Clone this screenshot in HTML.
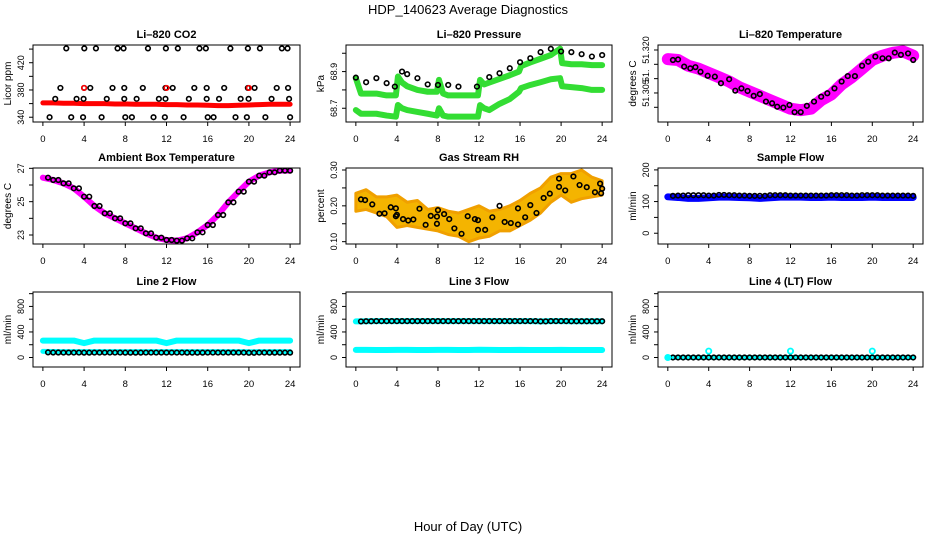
<!DOCTYPE html>
<html><head><meta charset="utf-8"><style>
html,body{margin:0;padding:0;background:#fff;}
svg{display:block;font-family:"Liberation Sans",sans-serif;}
</style></head><body>
<svg id="c" width="936" height="540" viewBox="0 0 936 540" xmlns="http://www.w3.org/2000/svg">
<rect width="936" height="540" fill="#fff"/>
<text x="468" y="14" text-anchor="middle" font-size="13">HDP_140623  Average Diagnostics</text>
<text x="468" y="531" text-anchor="middle" font-size="13">Hour of Day (UTC)</text>
</svg>
<script>
// ---- data arrays ----
const xTicks = [0,4,8,12,16,20,24];
// CO2
const co2BlackHours = [2.27,4.02,5.15,7.25,7.83,10.2,11.94,13.1,15.2,15.82,18.2,19.9,21.07,23.2,23.75,
 1.7,4.0,4.6,6.76,7.9,9.7,11.9,12.6,14.7,15.9,17.6,19.9,20.55,22.7,23.8,
 1.2,3.27,3.95,6.2,7.9,9.1,11.26,11.9,14.17,15.9,17.1,19.2,19.97,22.2,23.9,
 0.65,2.75,3.9,5.7,8.0,8.64,10.74,11.84,13.66,16.0,16.57,18.7,19.8,21.6,24.0];
const co2BlackVals = [441,441,441,441,441,441,441,441,441,441,441,441,441,441,441,
 383,383,383,383,383,383,383,383,383,383,383,383,383,383,383,
 367,367,367,367,367,367,367,367,367,367,367,367,367,367,367,
 340,340,340,340,340,340,340,340,340,340,340,340,340,340,340];
const co2RedVals = [361,361,360.5,360.5,360,360,360,359.5,359.5,359,359,359,358.5,358.5,358,358,357.5,357,357,357.5,358,358.5,359,359,359];
const co2RedDotHours = [4,12,20];
const co2RedDotVals = [383,383,383];
// Pressure
const presBlackVals = [68.867,68.842,68.864,68.837,68.818,68.9,68.886,68.864,68.83,68.827,68.827,68.818,68.818,68.87,68.891,68.918,68.951,68.973,69.006,69.024,69.01,69.006,68.995,68.982,68.99];
const presBlackHours = [0,1,2,3,3.8,4.5,5,6,7,8,9,10,11.8,13,14,15,16,17,18,19,20,21,22,23,24];
const gHours = [0,0.5,1,2,3,3.9,4.1,4.5,5,6,7,7.9,8.1,8.5,9,10,11,11.9,12.1,12.5,13,14,15,15.9,16.1,17,18,19,19.9,20.1,21,22,23,24];
const gUpVals = [68.864,68.78,68.78,68.78,68.77,68.77,68.873,68.84,68.82,68.80,68.79,68.79,68.855,68.78,68.77,68.77,68.77,68.77,68.855,68.83,68.84,68.86,68.88,68.90,68.93,68.95,68.97,68.99,69.025,68.946,68.94,68.94,68.935,68.935];
const gLoVals = [68.69,68.67,68.67,68.67,68.66,68.654,68.718,68.70,68.69,68.68,68.67,68.66,68.70,68.66,68.654,68.654,68.654,68.654,68.717,68.70,68.69,68.724,68.75,68.79,68.81,68.827,68.842,68.858,68.864,68.82,68.815,68.81,68.80,68.80];
// Temperature
const tempBlackHours = [0.5,1,1.6,2.2,2.7,3.2,3.9,4.6,5.2,6,6.6,7.2,7.8,8.4,9,9.6,10.2,10.7,11.3,11.9,12.4,13,13.6,14.3,15,15.6,16.3,17,17.6,18.3,19,19.6,20.3,21,21.6,22.2,22.8,23.5,24];
const tempBlackVals = [51.3165,51.3167,51.3142,51.3136,51.3140,51.3124,51.3110,51.3107,51.3084,51.3098,51.3058,51.3066,51.3057,51.3040,51.3046,51.3020,51.3014,51.3002,51.2999,51.3008,51.2983,51.2983,51.3005,51.3020,51.3037,51.3049,51.3066,51.3090,51.3109,51.3109,51.3145,51.3159,51.3177,51.3171,51.3171,51.3191,51.3183,51.3188,51.3165];
const tempMagVals = [51.3168,51.3165,51.3145,51.3135,51.312,51.3105,51.309,51.307,51.3055,51.304,51.3025,51.301,51.2995,51.299,51.2995,51.3025,51.3045,51.308,51.3105,51.3135,51.3165,51.318,51.319,51.3195,51.318];
// Ambient
const ambVals = [26.44,26.30,26.10,25.8,25.3,24.74,24.3,24.0,23.7,23.4,23.1,22.84,22.7,22.66,22.8,23.16,23.6,24.2,24.96,25.6,26.2,26.56,26.76,26.86,26.86];
// RH
const rhHi = [.235,.245,.225,.225,.23,.21,.215,.19,.195,.185,.18,.19,.20,.185,.19,.20,.215,.235,.25,.28,.29,.29,.30,.28,.27];
const rhLo = [.185,.19,.18,.17,.14,.145,.14,.135,.13,.12,.115,.10,.11,.115,.13,.13,.145,.16,.18,.21,.23,.21,.22,.225,.23];
const rhBlackH = [0.5,0.9,1.6,2.3,2.8,3.4,3.9,3.9,4.0,4.6,5.1,5.6,6.2,6.8,7.3,7.9,7.9,8.0,8.6,9.1,9.6,10.3,10.9,11.6,11.9,11.9,12.6,13.3,14.0,14.5,15.1,15.8,15.8,16.5,17.0,17.6,18.3,18.9,19.8,19.8,20.4,21.2,21.8,22.5,23.3,23.8,23.9,24.0];
const rhBlackV = [0.218,0.216,0.204,0.178,0.179,0.196,0.193,0.171,0.175,0.163,0.159,0.162,0.192,0.147,0.172,0.170,0.150,0.188,0.177,0.163,0.137,0.122,0.171,0.163,0.133,0.160,0.133,0.168,0.200,0.155,0.152,0.148,0.193,0.168,0.202,0.180,0.222,0.234,0.276,0.253,0.243,0.282,0.258,0.252,0.238,0.262,0.235,0.248];
// Flows (hourly)
const sfBlueVals = [115,113,110,110,112,114,114,113,112,110,112,114,114,114,113,113,114,113,113,113,114,113,113,113,113];
const sfBlackVals = [118,119,120,120,119,121,120,119,118,118,120,120,119,119,119,119,120,120,119,120,120,119,119,119,118];
const l2CyanHiVals = [265,265,265,265,225,265,265,265,265,265,265,265,225,265,265,265,265,265,265,265,225,265,265,265,265];
const l2BlackVals = [80,78,77,77,76,77,77,77,76,76,77,77,77,77,76,76,77,77,77,77,74,77,76,76,76];
const l3BlackVals = [565,568,570,570,570,570,570,570,570,570,570,570,570,570,570,570,570,570,566,570,570,568,568,568,568];
const l3CyanLoVals = [120,120,118,118,120,120,118,118,120,120,118,118,122,120,118,118,120,118,118,118,120,118,118,118,118];
const l4BlackVals = [0,0,0,0,0,0,0,0,0,0,0,0,0,0,0,0,0,0,0,0,0,0,0,0,0];
const l4CyanDotHours = [0,4,12,20];
const l4CyanDotVals = [0,100,100,100];
const hours = [0,1,2,3,4,5,6,7,8,9,10,11,12,13,14,15,16,17,18,19,20,21,22,23,24];

const NS='http://www.w3.org/2000/svg';
const svg=document.getElementById('c');
function el(tag,attrs,parent){const e=document.createElementNS(NS,tag);for(const k in attrs)e.setAttribute(k,attrs[k]);(parent||svg).appendChild(e);return e;}

const cols=[[33,300],[346,612],[658,923]];
const rows=[[45,122],[168,244],[292,367]];

function panel(ci,ri,name,title,ylab,ylim,yticks,ylabels){
  const [x0,x1]=cols[ci],[y0,y1]=rows[ri];
  const g=el('g',{});
  
  
  const sx=v=>x0+(v+0.96)/25.92*(x1-x0);
  const sy=v=>y1-(v-ylim[0])/(ylim[1]-ylim[0])*(y1-y0);
  const clipId='clip'+ci+ri;
  const cp=el('clipPath',{id:clipId},g);el('rect',{x:x0,y:y0,width:x1-x0,height:y1-y0},cp);
  const plot=el('g',{'clip-path':'url(#'+clipId+')'},g);
  
  
  const t=el('text',{x:(x0+x1)/2,y:y0-7,'text-anchor':'middle','font-size':11,'font-weight':'bold'},g);
  t.textContent=title;
  
  
  const box=el('rect',{x:x0,y:y0,width:x1-x0,height:y1-y0,fill:'none',stroke:'#000','stroke-width':1},g);
  
  
  const xa=el('g',{},g);
  
  
  el('line',{x1:sx(0),x2:sx(24),y1:y1,y2:y1,stroke:'#000'},xa);
  xTicks.forEach(v=>{el('line',{x1:sx(v),x2:sx(v),y1:y1,y2:y1+4,stroke:'#000'},xa);
    const tl=el('text',{x:sx(v),y:y1+20,'text-anchor':'middle','font-size':9.5},xa);tl.textContent=v;});
  const ya=el('g',{},g);
  
  
  yticks.forEach(v=>el('line',{x1:x0-4,x2:x0,y1:sy(v),y2:sy(v),stroke:'#000'},ya));
  ylabels.forEach(([v,s])=>{const tl=el('text',{x:0,y:0,'text-anchor':'middle','font-size':9,transform:`translate(${x0-9},${sy(v)}) rotate(-90)`},ya);tl.textContent=s;});
  const yt=el('text',{x:0,y:0,'text-anchor':'middle','font-size':10,transform:`translate(${x0-22},${(y0+y1)/2}) rotate(-90)`},g);
  yt.textContent=ylab;
  
  
  return {sx,sy,plot};
}
function band(p,hs,vs,color,w,nm){
  const pl=el('polyline',{points:hs.map((h,i)=>p.sx(h)+','+p.sy(vs[i])).join(' '),fill:'none',stroke:color,'stroke-width':w,'stroke-linejoin':'round','stroke-linecap':'round'},p.plot);
  
  
}
function pts(p,hs,vs,color,nm,r,sw){
  const g=el('g',{},p.plot);
  
  
  hs.forEach((h,i)=>el('circle',{cx:p.sx(h),cy:p.sy(vs[i]),r:r||2.3,fill:'none',stroke:color,'stroke-width':sw||1.6},g));
}
function ptsHalf(p,vs,color,nm){
  const hs=[],v2=[];
  vs.forEach((v,i)=>{if(i>0){hs.push(i-0.5);v2.push(vs[i-1]);} hs.push(i);v2.push(v);});
  pts(p,hs.slice(1),v2.slice(1),color,nm);
}

// CO2
let p=panel(0,0,'co2','Li\u2013820 CO2','Licor ppm',[333,446],[340,360,380,400,420,440],[[340,'340'],[380,'380'],[420,'420']]);
band(p,hours,co2RedVals,'#ff0000',5,'co2-red-series');
pts(p,co2BlackHours,co2BlackVals,'#000','co2-black-points');
pts(p,co2RedDotHours,co2RedDotVals,'#ff0000','co2-red-points');
// Pressure
p=panel(1,0,'pressure','Li\u2013820 Pressure','kPa',[68.625,69.045],[68.7,68.8,68.9,69.0],[[68.7,'68.7'],[68.9,'68.9']]);
band(p,gHours,gUpVals,'#33dd33',6,'pressure-green-upper');
band(p,gHours,gLoVals,'#33dd33',6,'pressure-green-lower');
pts(p,presBlackHours,presBlackVals,'#000','pressure-black-points');
// Temperature
p=panel(2,0,'temperature','Li\u2013820 Temperature','degrees C',[51.29487,51.32174],[51.300,51.305,51.310,51.315,51.320],[[51.305,'51.305'],[51.311,'51.'],[51.320,'51.320']]);
band(p,hours,tempMagVals,'#ff00ff',12,'temperature-magenta-series');
pts(p,tempBlackHours,tempBlackVals,'#000','temperature-black-points');
// Ambient
p=panel(0,1,'ambient','Ambient Box Temperature','degrees C',[22.46,27.02],[23,24,25,26,27],[[23,'23'],[25,'25'],[27,'27']]);
band(p,hours,ambVals,'#ff00ff',6,'ambient-magenta-series');
ptsHalf(p,ambVals,'#000','ambient-black-points');
// RH
p=panel(1,1,'rh','Gas Stream RH','percent',[0.0935,0.3056],[0.10,0.15,0.20,0.25,0.30],[[0.10,'0.10'],[0.20,'0.20'],[0.30,'0.30']]);
{const ptsStr=hours.map((h,i)=>p.sx(h)+','+p.sy(rhHi[i])).concat(hours.slice().reverse().map((h,j)=>p.sx(h)+','+p.sy(rhLo[hours.length-1-j]))).join(' ');
 const pg=el('polygon',{points:ptsStr,fill:'#f4b400',stroke:'#f0a000','stroke-width':3,'stroke-linejoin':'round'},p.plot);
 
 }
pts(p,rhBlackH,rhBlackV,'#000','rh-black-points');
// Sample flow
p=panel(2,1,'sample-flow','Sample Flow','ml/min',[-34,206],[0,50,100,150,200],[[0,'0'],[100,'100'],[200,'200']]);
band(p,hours,sfBlueVals,'#0000ff',7,'sample-flow-blue-series');
ptsHalf(p,sfBlackVals,'#000','sample-flow-black-points');
// Line 2
const flowTicks=[0,200,400,600,800,1000],flowLabels=[[0,'0'],[400,'400'],[800,'800']];
p=panel(0,2,'line2','Line 2 Flow','ml/min',[-149,1026],flowTicks,flowLabels);
band(p,hours,l2CyanHiVals,'#00ffff',6,'line2-cyan-upper');
band(p,hours,l2BlackVals.map(v=>v+15),'#00ffff',5,'line2-cyan-lower');
ptsHalf(p,l2BlackVals,'#000','line2-black-points');
// Line 3
p=panel(1,2,'line3','Line 3 Flow','ml/min',[-149,1026],flowTicks,flowLabels);
band(p,hours,l3CyanLoVals,'#00ffff',6,'line3-cyan-lower');
band(p,hours,l3BlackVals,'#00ffff',6,'line3-cyan-upper');
ptsHalf(p,l3BlackVals,'#000','line3-black-points');
// Line 4
p=panel(2,2,'line4','Line 4 (LT) Flow','ml/min',[-149,1026],flowTicks,flowLabels);
band(p,hours,l4BlackVals,'#00ffff',5,'line4-cyan-series');
ptsHalf(p,l4BlackVals,'#000','line4-black-points');
pts(p,l4CyanDotHours,l4CyanDotVals,'#00ffff','line4-cyan-points',2.6,1.8);
</script>
</body></html>
